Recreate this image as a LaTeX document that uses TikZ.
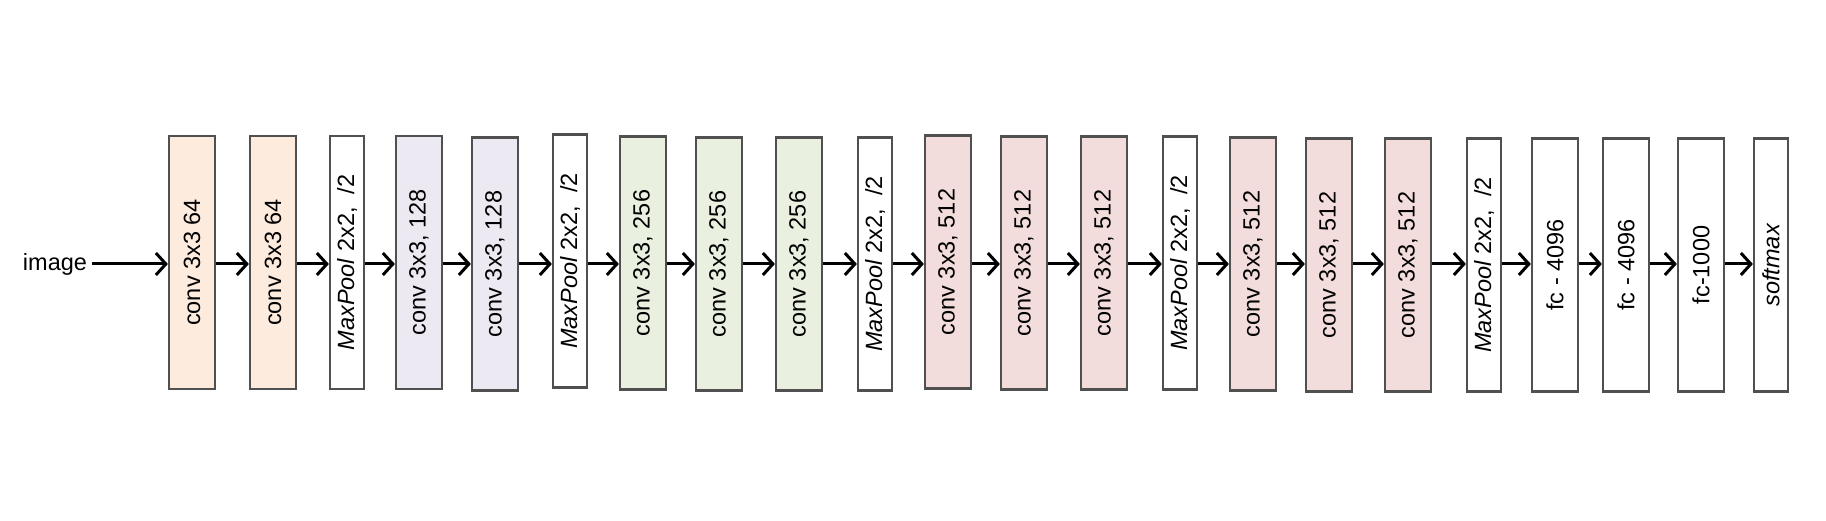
\documentclass[tikz,border=0pt]{standalone}
\usepackage{fontspec}
\setmainfont{Liberation Sans}
\usetikzlibrary{arrows.meta}
\definecolor{bordc}{HTML}{505050}
\definecolor{cOrange}{HTML}{FDEBDD}
\definecolor{cPurple}{HTML}{EDE9F2}
\definecolor{cGreen}{HTML}{E9F0DF}
\definecolor{cPink}{HTML}{F2DDDC}
\tikzset{
  layer/.style={draw=bordc, line width=2.2pt, minimum height=253pt, inner sep=0pt,
    font=\fontsize{23.5}{27}\selectfont},
  wide/.style={layer, minimum width=46pt},
  narrow/.style={layer, minimum width=34pt, fill=white},
  arr/.style={draw=black, line width=3pt, -{Straight Barb[length=10pt,width=22pt,line width=3pt]}},
}
\newcommand{\rt}[1]{\rotatebox{90}{#1}}
\newcommand{\mpool}{\rt{\textit{MaxPool} 2x2,\ \ /2}}
\begin{document}
\begin{tikzpicture}[x=1pt,y=-1pt]
\useasboundingbox (0,0) rectangle (1826,521);
\coordinate (ay) at (0,264);
\node[font=\fontsize{23.5}{27}\selectfont, inner sep=5pt] (img) at (55,264) {image};
\node[wide, fill=cOrange] (b1) at (192,262.5) {\rt{conv 3x3 64}};
\node[wide, fill=cOrange] (b2) at (273,262.5) {\rt{conv 3x3 64}};
\node[narrow] (b3) at (347,262.5) {\mpool};
\node[wide, fill=cPurple] (b4) at (419,262.5) {\rt{conv 3x3, 128}};
\node[wide, fill=cPurple] (b5) at (495,264) {\rt{conv 3x3, 128}};
\node[narrow] (b6) at (570,261) {\mpool};
\node[wide, fill=cGreen] (b7) at (643,263) {\rt{conv 3x3, 256}};
\node[wide, fill=cGreen] (b8) at (719,264) {\rt{conv 3x3, 256}};
\node[wide, fill=cGreen] (b9) at (799,264) {\rt{conv 3x3, 256}};
\node[narrow] (b10) at (875,264) {\mpool};
\node[wide, fill=cPink] (b11) at (948,262) {\rt{conv 3x3, 512}};
\node[wide, fill=cPink] (b12) at (1024,263) {\rt{conv 3x3, 512}};
\node[wide, fill=cPink] (b13) at (1104,263) {\rt{conv 3x3, 512}};
\node[narrow] (b14) at (1180,263) {\mpool};
\node[wide, fill=cPink] (b15) at (1253,264) {\rt{conv 3x3, 512}};
\node[wide, fill=cPink] (b16) at (1329,265) {\rt{conv 3x3, 512}};
\node[wide, fill=cPink] (b17) at (1408,265) {\rt{conv 3x3, 512}};
\node[narrow] (b18) at (1484,265) {\mpool};
\node[wide, fill=white] (b19) at (1555,265) {\rt{fc - 4096}};
\node[wide, fill=white] (b20) at (1626,265) {\rt{fc - 4096}};
\node[wide, fill=white] (b21) at (1701,265) {\rt{fc-1000}};
\node[narrow] (b22) at (1771,265) {\rt{\textit{softmax}}};
\draw[arr] (img.east |- ay) -- (b1.west |- ay);
\foreach \a/\b in {b1/b2,b2/b3,b3/b4,b4/b5,b5/b6,b6/b7,b7/b8,b8/b9,b9/b10,b10/b11,b11/b12,b12/b13,b13/b14,b14/b15,b15/b16,b16/b17,b17/b18,b18/b19,b19/b20,b20/b21,b21/b22}
  \draw[arr] (\a.east |- ay) -- (\b.west |- ay);
\end{tikzpicture}
\end{document}
